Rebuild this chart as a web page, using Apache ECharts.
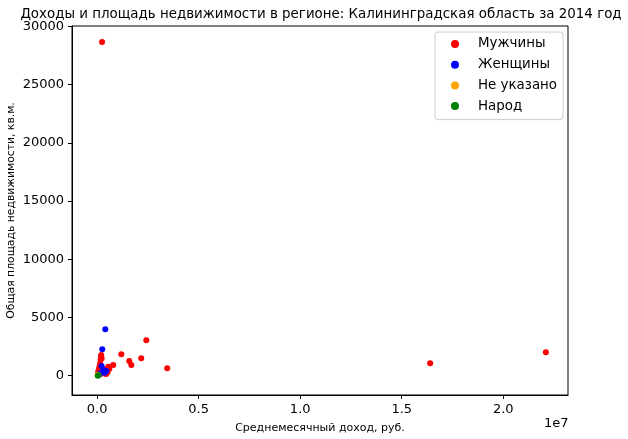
<!DOCTYPE html>
<html>
<head>
<meta charset="utf-8">
<script src="https://cdn.jsdelivr.net/npm/echarts@6/dist/echarts.min.js"></script>
<style>
  html, body { margin: 0; padding: 0; background: #fff; }
  #main { width: 628px; height: 439px; }
</style>
</head>
<body>
<div id="main"></div>
<script>
// данные: доход (руб.) и площадь (кв.м.)
const menIncome = [240000, 2420000, 1190000, 1580000, 1680000, 2170000, 3450000, 790000, 16400000, 22100000,
  190000, 170000, 140000, 100000, 50000, 550000, 520000, 420000, 200000, 220000, 120000, 80000, 300000, 350000, 150000, 600000, 450000];
const menArea = [28650, 3040, 1840, 1260, 920, 1490, 640, 920, 1060, 2010,
  1630, 1350, 1000, 630, 340, 770, 340, 550, 1780, 1500, 800, 500, 400, 200, 150, 600, 150];

const womenIncome = [400000, 250000, 220000, 350000, 140000, 300000, 100000, 450000];
const womenArea = [3980, 2265, 830, 260, 200, 500, 100, 400];

const unknownIncome = [20000, 60000];
const unknownArea = [80, 30];

const peopleIncome = [50000, 30000];
const peopleArea = [30, 0];

const xTicks = [0, 5000000, 10000000, 15000000, 20000000];
const yTicks = [0, 5000, 10000, 15000, 20000, 25000, 30000];

const font = 'DejaVu Sans';

function pairs(xs, ys) {
  return xs.map((x, i) => [x, ys[i]]);
}

let chart = echarts.init(document.getElementById('main'));

chart.setOption({
  animation: false,
  textStyle: { fontFamily: font, color: '#000' },
  title: {
    text: 'Доходы и площадь недвижимости в регионе: Калининградская область за 2014 год',
    left: 316,
    textAlign: 'center',
    top: 3,
    textStyle: { fontFamily: font, fontSize: 13.4, fontWeight: 'normal', color: '#000' }
  },
  grid: {
    left: 72, right: 60, top: 26, bottom: 44,
    outerBoundsMode: 'none',
    containLabel: false,
    show: true, borderColor: '#000', borderWidth: 1
  },
  legend: {
    orient: 'vertical',
    left: 435,
    top: 32,
    padding: [4.5, 6, 6, 16],
    itemGap: 5.7,
    itemWidth: 8,
    itemHeight: 8,
    icon: 'circle',
    borderColor: '#ccc',
    borderWidth: 1,
    borderRadius: 3,
    backgroundColor: '#fff',
    textStyle: { fontFamily: font, fontSize: 13.4, lineHeight: 15, color: '#000', padding: [0, 0, 0, 14] }
  },
  xAxis: {
    type: 'value',
    min: -1240000,
    max: 23190000,
    splitLine: { show: false },
    axisLine: { show: true, onZero: false, lineStyle: { color: '#000' } },
    axisTick: { show: true, length: 4, customValues: xTicks, lineStyle: { color: '#000' } },
    axisLabel: {
      customValues: xTicks,
      margin: 8,
      fontFamily: font, fontSize: 13, color: '#000',
      formatter: v => (v / 1e7).toFixed(1)
    },
    name: 'Среднемесячный доход, руб.',
    nameLocation: 'middle',
    nameGap: 28,
    nameMoveOverlap: false,
    nameTextStyle: { fontFamily: font, fontSize: 11, color: '#000' }
  },
  yAxis: {
    type: 'value',
    min: -1656,
    max: 30030,
    splitLine: { show: false },
    axisLine: { show: true, onZero: false, lineStyle: { color: '#000' } },
    axisTick: { show: true, length: 4, customValues: yTicks, lineStyle: { color: '#000' } },
    axisLabel: {
      customValues: yTicks,
      margin: 8,
      fontFamily: font, fontSize: 13, color: '#000',
      formatter: v => String(v)
    },
    name: 'Общая площадь недвижимости, кв.м.',
    nameLocation: 'middle',
    nameGap: 55,
    nameMoveOverlap: false,
    nameRotate: 90,
    nameTextStyle: { fontFamily: font, fontSize: 10.8, color: '#000' }
  },
  graphic: [{
    type: 'text',
    left: 544,
    top: 417,
    style: { text: '1e7', font: '13px "DejaVu Sans"', fill: '#000' }
  }],
  series: [
    { name: 'Мужчины', type: 'scatter', symbolSize: 6, itemStyle: { color: '#ff0000', opacity: 1 }, data: pairs(menIncome, menArea) },
    { name: 'Женщины', type: 'scatter', symbolSize: 6, itemStyle: { color: '#0000ff', opacity: 1 }, data: pairs(womenIncome, womenArea) },
    { name: 'Не указано', type: 'scatter', symbolSize: 6, itemStyle: { color: '#ffa500', opacity: 1 }, data: pairs(unknownIncome, unknownArea) },
    { name: 'Народ', type: 'scatter', symbolSize: 6, itemStyle: { color: '#008000', opacity: 1 }, data: pairs(peopleIncome, peopleArea) }
  ]
});
</script>
</body>
</html>
